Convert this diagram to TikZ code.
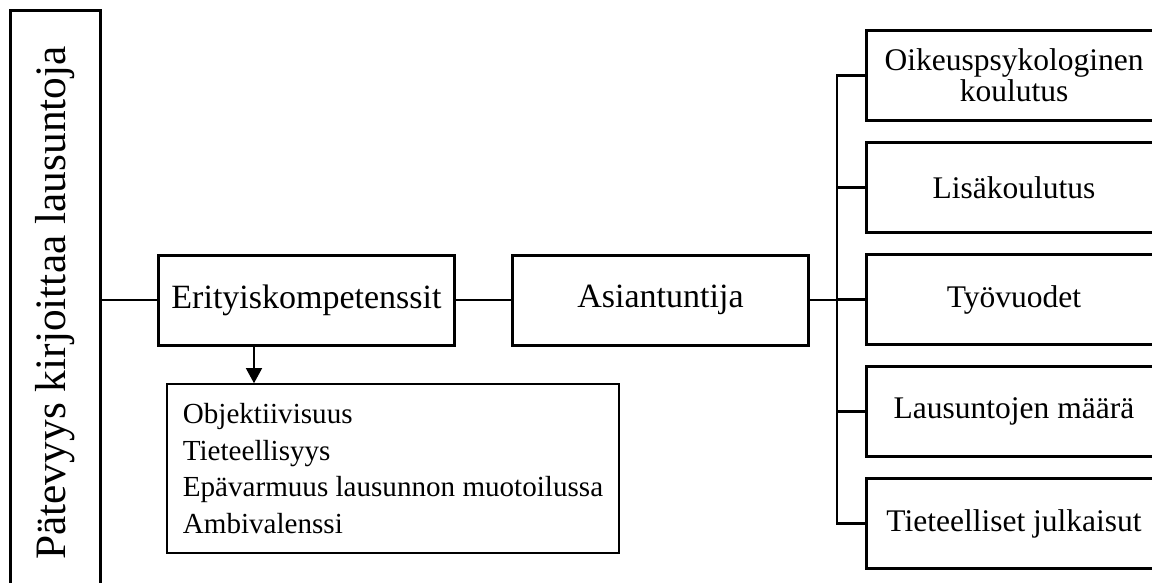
\documentclass[tikz,border=0pt]{standalone}
\usepackage{fontspec}
\setmainfont{Liberation Serif}
\usetikzlibrary{arrows.meta}

\begin{document}
\begin{tikzpicture}[x=0.5pt,y=-0.5pt]
    \pgfmathsetmacro{\boxwidth}{148}
    \pgfmathsetmacro{\boxheight}{45}
    \pgfmathsetmacro{\boxline}{1.5}
    \pgfmathsetmacro{\linkline}{1}
    \providecommand{\sidefontsize}{\fontsize{21.7}{26}\selectfont}
    \providecommand{\midfontsize}{\fontsize{17}{20}\selectfont}
    \providecommand{\rightfontsize}{\fontsize{15.75}{15.5}\selectfont}
    \providecommand{\listfontsize}{\fontsize{14.55}{18.35}\selectfont}
    \tikzset{
        mainbox/.style={draw,line width=\boxline pt,minimum width=\boxwidth pt,minimum height=\boxheight pt,inner sep=0,align=center},
        link/.style={line width=\linkline pt}
    }
    \useasboundingbox (0,0) rectangle (1152,583);
    \clip (0,0) rectangle (1152,583);
    % vasen palkki, jatkuu kuvan alareunan yli
    \node[mainbox,rotate=90,minimum width=292pt,font=\sidefontsize] (patevyys) at (55,303) {Pätevyys kirjoittaa lausuntoja};
    \node[mainbox,font=\midfontsize] (erit) at (306.5,300) {Erityiskompetenssit};
    \node[mainbox,font=\midfontsize] (asiantuntija) at (660.5,300) {Asiantuntija};
    \node[draw,line width=0.8pt,minimum width=226pt,minimum height=84.5pt,align=left,inner sep=0,font=\listfontsize] (piirteet) at (393,468.5)
    {Objektiivisuus\\Tieteellisyys\\Epävarmuus lausunnon muotoilussa\\Ambivalenssi};
    \node[mainbox,font=\rightfontsize] (oikeus) at (1014,75.5) {Oikeuspsykologinen\\koulutus};
    \node[mainbox,font=\rightfontsize] (lisa) at (1014,187.5) {Lisäkoulutus};
    \node[mainbox,font=\rightfontsize] (vuodet) at (1014,299.5) {Työvuodet};
    \node[mainbox,font=\rightfontsize] (maara) at (1014,411.5) {Lausuntojen määrä};
    \node[mainbox,font=\rightfontsize] (julkaisut) at (1014,523.5) {Tieteelliset julkaisut};
    \coordinate (haara) at (837,300);
    \draw[link] (erit.west) -- (erit.west -| patevyys.south);
    \draw[link] (erit.east) -- (asiantuntija.west);
    \draw[-{Triangle[width=8pt,length=7.5pt]},line width=0.7pt] ([xshift=48.5pt]erit.south west) -- ([xshift=48.5pt]erit.south west |- piirteet.north);
    \draw[line width=1.3pt] (asiantuntija.east) -- (haara);
    \draw[line width=1.2pt] (oikeus.west) -| (haara) |- (julkaisut.west);
    \draw[line width=1.2pt] (lisa.west) -- (lisa.west -| haara);
    \draw[line width=1.2pt] (vuodet.west) -- (vuodet.west -| haara);
    \draw[line width=1.2pt] (maara.west) -- (maara.west -| haara);
\end{tikzpicture}
\end{document}
